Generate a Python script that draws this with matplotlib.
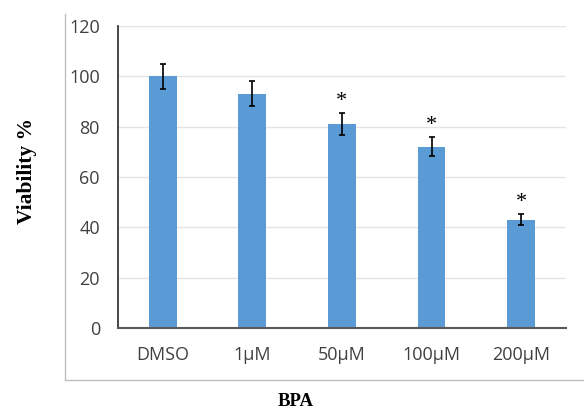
import matplotlib.pyplot as plt
from matplotlib.lines import Line2D

# data
groups = ['DMSO', '1µM', '50µM', '100µM', '200µM']
viability = [100, 93, 81, 72, 43]
errors = [5, 5, 4.3, 3.8, 2.2]
significant = [False, False, True, True, True]
yticks = [0, 20, 40, 60, 80, 100, 120]

fig = plt.figure(figsize=(5.84, 4.12), dpi=100)
ax = fig.add_axes([0.202, 0.204, 0.767, 0.733])

# outer light frame (left and bottom only)
fig.add_artist(Line2D([0.111, 0.111], [0.078, 0.966], transform=fig.transFigure,
                      color='#BFBFBF', lw=1))
fig.add_artist(Line2D([0.111, 1.0], [0.078, 0.078], transform=fig.transFigure,
                      color='#BFBFBF', lw=1))

x = range(len(groups))
ax.bar(x, viability, width=0.31, color='#5B9BD5', zorder=2)
ax.errorbar(x, viability, yerr=errors, fmt='none', ecolor='black',
            elinewidth=1.2, capsize=2.5, capthick=1.2, zorder=3)

for i, (v, e, s) in enumerate(zip(viability, errors, significant)):
    if s:
        ax.text(i, v + e + 0.8, '*', ha='center', va='bottom',
                fontsize=16, family='Liberation Serif')

ax.set_xlim(-0.5, len(groups) - 0.5)
ax.set_ylim(0, 120)
ax.set_yticks(yticks)
ax.set_xticks(list(x))
ax.set_xticklabels(groups)
ax.yaxis.grid(True, color='#E4E4E4', lw=1)
ax.set_axisbelow(True)

for side in ['top', 'right']:
    ax.spines[side].set_visible(False)
ax.spines['left'].set_color('#262626')
ax.spines['bottom'].set_color('#595959')
ax.spines['left'].set_linewidth(1.2)
ax.spines['bottom'].set_linewidth(1.5)

ax.tick_params(axis='both', length=0, labelsize=13, colors='#404040')
ax.tick_params(axis='y', pad=13)
ax.tick_params(axis='x', pad=13)
for lbl in ax.get_xticklabels() + ax.get_yticklabels():
    lbl.set_family('Open Sans')

fig.text(0.046, 0.585, 'Viability %', rotation=90, ha='center', va='center',
         fontsize=15.5, fontweight='bold', family='Liberation Serif')
fig.text(0.507, 0.026, 'BPA', ha='center', va='center',
         fontsize=13.5, fontweight='bold', family='Liberation Serif')

plt.savefig('out.png', dpi=100)
